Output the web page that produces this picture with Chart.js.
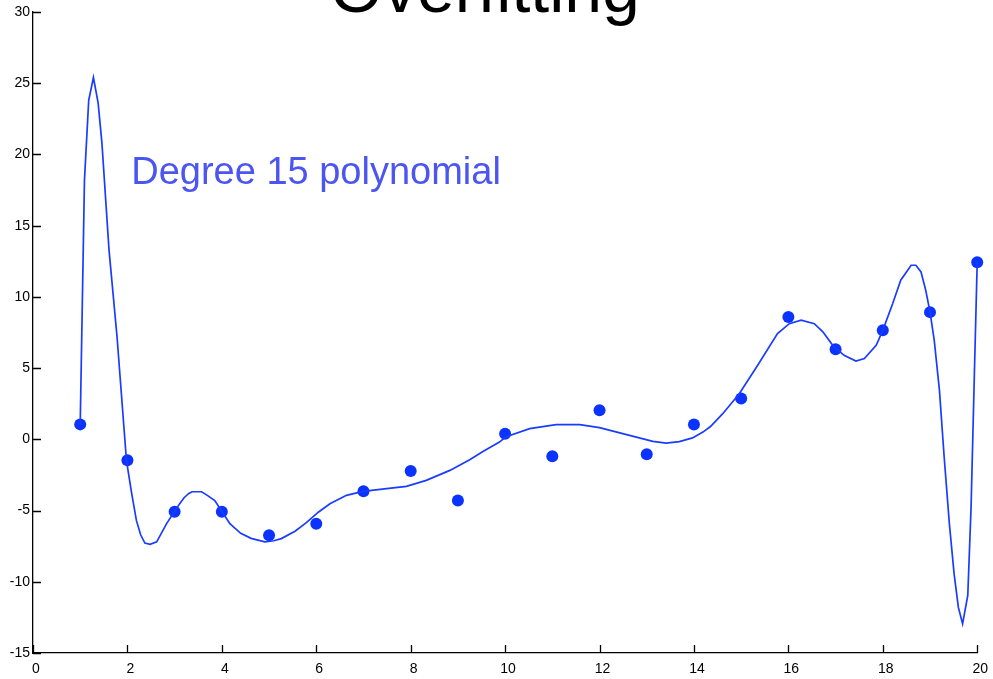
<!DOCTYPE html>
<html>
<head>
<meta charset="utf-8">
<title>Overfitting</title>
<script src="https://cdn.jsdelivr.net/npm/chart.js@4"></script>
<style>
  html, body { margin: 0; padding: 0; background: #fff; }
  #wrap { width: 993px; height: 679px; position: relative; }
</style>
</head>
<body>
<div id="wrap"><canvas id="fitChart"></canvas></div>
<script>
// training samples
var sampleX = [1, 2, 3, 4, 5, 6, 7, 8, 9, 10, 11, 12, 13, 14, 15, 16, 17, 18, 19, 20];
var sampleY = [1.05, -1.47, -5.08, -5.08, -6.74, -5.92, -3.65, -2.22, -4.3, 0.4,
               -1.19, 2.04, -1.05, 1.04, 2.87, 8.58, 6.32, 7.65, 8.93, 12.44];

// degree 15 fit, evaluated along x
var fitX = [1.0, 1.09, 1.18, 1.28, 1.38, 1.46, 1.61, 1.78, 1.98, 2.09, 2.19, 2.28,
            2.37, 2.48, 2.62, 2.83, 3.0, 3.1, 3.2, 3.3, 3.37, 3.57, 3.7, 3.85,
            3.99, 4.17, 4.4, 4.62, 4.91, 5.1, 5.26, 5.55, 5.79, 6.05, 6.29, 6.64,
            6.99, 7.49, 7.91, 8.33, 8.83, 9.25, 9.53, 9.88, 10.01, 10.52, 11.08, 11.58,
            12.0, 12.49, 13.13, 13.41, 13.69, 13.97, 14.19, 14.35, 14.61, 14.96, 15.35, 15.77,
            16.02, 16.27, 16.55, 16.73, 16.94, 17.18, 17.43, 17.61, 17.86, 18.0, 18.21, 18.38, 18.6,
            18.7, 18.81, 18.91, 19.0, 19.09, 19.2, 19.3, 19.41, 19.51, 19.6, 19.69, 19.8,
            19.87, 19.94, 20.0];
var fitY = [1.05, 18.2, 23.8, 25.4, 23.6, 20.8, 13.3, 7.2, -1.5, -3.8, -5.69, -6.7,
            -7.28, -7.37, -7.2, -5.92, -5.05, -4.55, -4.1, -3.8, -3.68, -3.68, -3.95, -4.3,
            -5.0, -5.92, -6.6, -6.95, -7.2, -7.12, -6.97, -6.45, -5.85, -5.1, -4.52, -3.93,
            -3.65, -3.46, -3.3, -2.88, -2.18, -1.43, -0.85, -0.19, 0.16, 0.75, 1.03, 1.03,
            0.82, 0.4, -0.14, -0.26, -0.16, 0.1, 0.51, 0.9, 1.8, 3.2, 5.2, 7.42,
            8.12, 8.36, 8.12, 7.55, 6.6, 5.9, 5.5, 5.67, 6.6, 7.65, 9.53, 11.17, 12.22,
            12.22, 11.75, 10.46, 8.94, 6.95, 3.44, -1.24, -5.92, -9.43, -11.78, -12.95, -10.96,
            -4.75, 4.61, 12.45];

var xTicks = [0, 2, 4, 6, 8, 10, 12, 14, 16, 18, 20];
var yTicks = [-15, -10, -5, 0, 5, 10, 15, 20, 25, 30];

var chartTitle = "Overfitting";
var fitLabel = "Degree 15 polynomial";

function toPoints(xs, ys) {
  return xs.map(function (x, i) { return { x: x, y: ys[i] }; });
}

// inward tick marks plus the two text labels
var decorations = {
  id: "decorations",
  afterDraw: function (chart) {
    var ctx = chart.ctx;
    var xs = chart.scales.x, ys = chart.scales.y;
    var area = chart.chartArea;
    ctx.save();
    ctx.strokeStyle = "#000";
    ctx.lineWidth = 1.3;
    ctx.beginPath();
    xTicks.forEach(function (v) {
      var px = Math.round(xs.getPixelForValue(v)) + 0.5;
      ctx.moveTo(px, area.bottom);
      ctx.lineTo(px, area.bottom - 8);
    });
    yTicks.forEach(function (v) {
      var py = Math.round(ys.getPixelForValue(v)) + 0.5;
      ctx.moveTo(area.left, py);
      ctx.lineTo(area.left + 8, py);
    });
    ctx.stroke();

    ctx.fillStyle = "#000";
    ctx.font = "68px 'Liberation Sans', Arial, sans-serif";
    ctx.textAlign = "center";
    ctx.textBaseline = "alphabetic";
    ctx.fillText(chartTitle, 485, 12);

    ctx.fillStyle = "#4a55f2";
    ctx.font = "38px 'Liberation Sans', Arial, sans-serif";
    ctx.textAlign = "left";
    ctx.fillText(fitLabel, xs.getPixelForValue(2.08), ys.getPixelForValue(17.9));
    ctx.restore();
  }
};

var tickFont = { family: "'Liberation Sans', Arial, sans-serif", size: 14 };

new Chart(document.getElementById("fitChart"), {
  type: "scatter",
  data: {
    datasets: [
      {
        label: "samples",
        data: toPoints(sampleX, sampleY),
        pointRadius: 6,
        pointBackgroundColor: "#0b33ff",
        pointBorderWidth: 0,
        clip: false,
        order: 2
      },
      {
        label: "fit",
        data: toPoints(fitX, fitY),
        showLine: true,
        pointRadius: 0,
        borderColor: "#1a3cff",
        borderWidth: 1.7,
        tension: 0,
        clip: false,
        order: 1
      }
    ]
  },
  options: {
    responsive: true,
    maintainAspectRatio: false,
    animation: false,
    layout: { padding: { left: 0, top: 12, right: 15, bottom: 0 } },
    plugins: {
      legend: { display: false },
      tooltip: { enabled: false }
    },
    scales: {
      x: {
        type: "linear",
        min: 0,
        max: 20,
        afterBuildTicks: function (scale) {
          scale.ticks = xTicks.map(function (v) { return { value: v }; });
        },
        afterFit: function (scale) { scale.height = 26; },
        grid: { display: false, drawTicks: false },
        border: { color: "#000", width: 1.3 },
        ticks: { color: "#000", font: tickFont, padding: 8, labelOffset: 3, maxRotation: 0 }
      },
      y: {
        type: "linear",
        min: -15,
        max: 30,
        afterBuildTicks: function (scale) {
          scale.ticks = yTicks.map(function (v) { return { value: v }; });
        },
        afterFit: function (scale) { scale.width = 33; },
        grid: { display: false, drawTicks: false },
        border: { color: "#000", width: 1.3 },
        ticks: { color: "#000", font: tickFont, padding: 3 }
      }
    }
  },
  plugins: [decorations]
});
</script>
</body>
</html>
